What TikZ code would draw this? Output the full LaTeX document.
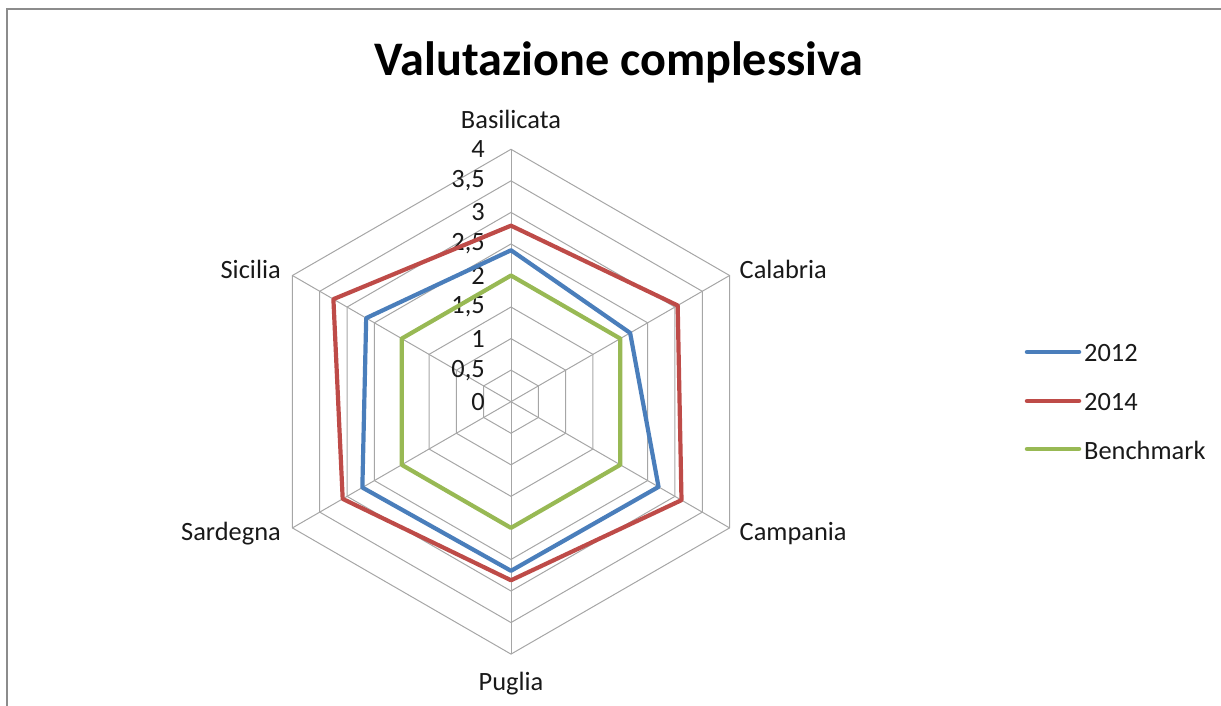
\documentclass[tikz,border=0pt]{standalone}
\usepackage{fontspec}
\setmainfont{Carlito}
\usetikzlibrary{calc}
\definecolor{ser12}{HTML}{4A7EBB}
\definecolor{ser14}{HTML}{BE4B48}
\definecolor{serbm}{HTML}{98B954}
\definecolor{gridc}{HTML}{A6A6A6}
\definecolor{framec}{HTML}{8C8C8C}
\tikzset{
  gridline/.style={draw=gridc, line width=1pt},
  serline/.style={line width=4.2pt, line join=round, line cap=round},
  lbl/.style={inner sep=0pt, font=\fontsize{26.4}{31}\selectfont, text=black!90},
  ticklbl/.style={inner sep=0pt, anchor=east, font=\fontsize{26.4}{31}\selectfont, text=black!90},
  legline/.style={line width=4.5pt, line cap=round},
}
\begin{document}
\begin{tikzpicture}[x=1pt,y=-1pt]
\useasboundingbox (0,0) rectangle (1221,706);
\draw[framec, line width=2.2pt] (1225,9) -- (7,9) -- (7,710);
\coordinate (c) at (511,401.7);
\def\u{63.1}
% grid hexagons
\foreach \k in {1,...,8}{
  \draw[gridline] ($(c)+(-90:\k*\u/2)$) -- ($(c)+(-30:\k*\u/2)$) -- ($(c)+(30:\k*\u/2)$) -- ($(c)+(90:\k*\u/2)$) -- ($(c)+(150:\k*\u/2)$) -- ($(c)+(210:\k*\u/2)$) -- cycle;
}
\foreach \a in {-90,-30,30,90,150,210}{
  \draw[gridline] (c) -- ($(c)+(\a:4*\u)$);
}
% tick labels
\foreach \v/\t [count=\i from 0] in {0/0,0.5/{0,5},1/1,1.5/{1,5},2/2,2.5/{2,5},3/3,3.5/{3,5},4/4}{
  \node[ticklbl] (tick\i) at (485,{401.7-\v*\u}) {\t};
}
% series
\draw[serline, serbm] ($(c)+(-90:2*\u)$) -- ($(c)+(-30:2*\u)$) -- ($(c)+(30:2*\u)$) -- ($(c)+(90:2*\u)$) -- ($(c)+(150:2*\u)$) -- ($(c)+(210:2*\u)$) -- cycle;
\draw[serline, ser12] ($(c)+(-90:2.4*\u)$) -- ($(c)+(-30:2.18*\u)$) -- ($(c)+(30:2.7*\u)$) -- ($(c)+(90:2.68*\u)$) -- ($(c)+(150:2.72*\u)$) -- ($(c)+(210:2.65*\u)$) -- cycle;
\draw[serline, ser14] ($(c)+(-90:2.79*\u)$) -- ($(c)+(-30:3.05*\u)$) -- ($(c)+(30:3.12*\u)$) -- ($(c)+(90:2.83*\u)$) -- ($(c)+(150:3.08*\u)$) -- ($(c)+(210:3.25*\u)$) -- cycle;
% category labels
\node[lbl, anchor=base] (bas) at (511,128.3) {Basilicata};
\node[lbl, anchor=base west] (cal) at (739.5,278.3) {Calabria};
\node[lbl, anchor=base west] (cam) at (739.5,540) {Campania};
\node[lbl, anchor=base] (pug) at (511,690.7) {Puglia};
\node[lbl, anchor=base east] (sar) at (281,540) {Sardegna};
\node[lbl, anchor=base east] (sic) at (281,278.3) {Sicilia};
% title
\node[inner sep=0pt, anchor=base, font=\bfseries\fontsize{48.2}{58}\selectfont] (title) at (619,76) {Valutazione complessiva};
% legend
\coordinate (l1a) at (1027,352); \coordinate (l1b) at (1079,352);
\coordinate (l2a) at (1027,401); \coordinate (l2b) at (1079,401);
\coordinate (l3a) at (1027,449); \coordinate (l3b) at (1079,449);
\draw[legline, ser12] (l1a) -- (l1b);
\draw[legline, ser14] (l2a) -- (l2b);
\draw[legline, serbm] (l3a) -- (l3b);
\node[lbl, anchor=west] (leg1) at (1084,353) {2012};
\node[lbl, anchor=west] (leg2) at (1084,402) {2014};
\node[lbl, anchor=west] (leg3) at (1084,450) {Benchmark};
\end{tikzpicture}
\end{document}
